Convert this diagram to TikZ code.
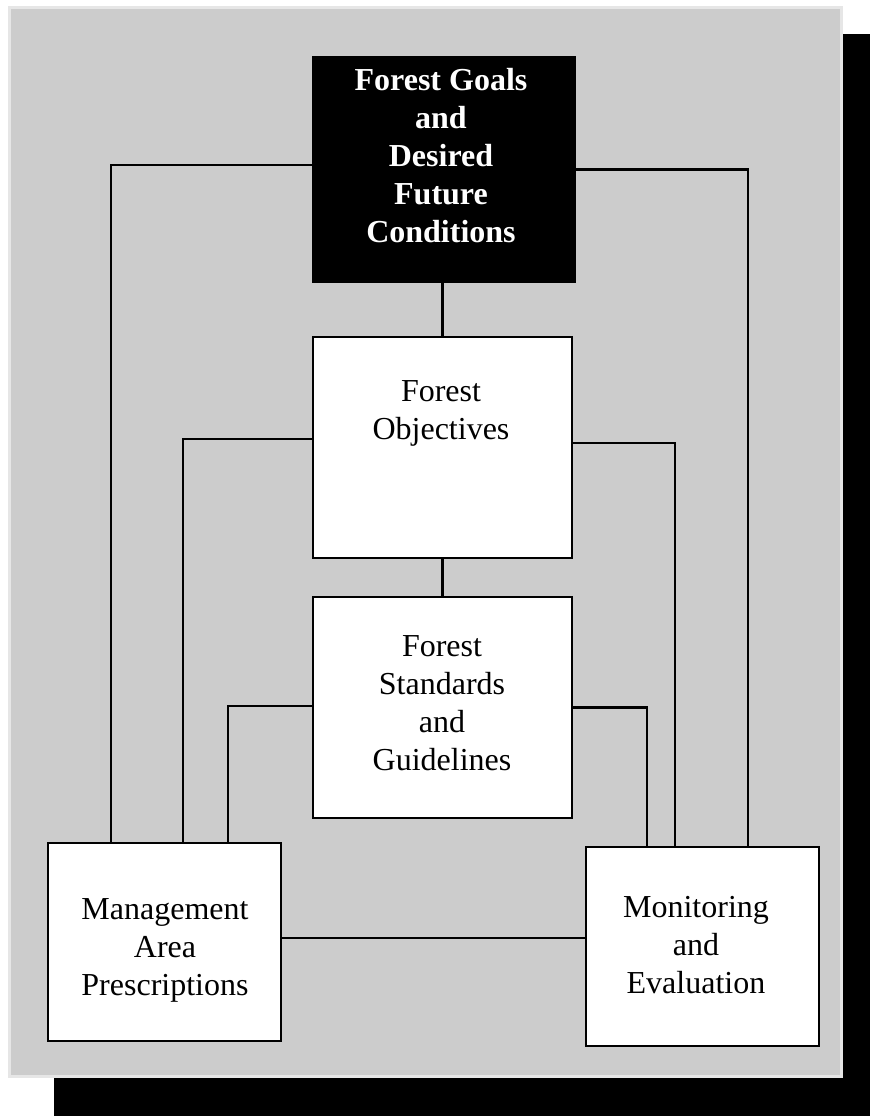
\documentclass[tikz,border=0pt]{standalone}
\usepackage{fontspec}
\setmainfont{Liberation Serif}
\definecolor{panelgray}{HTML}{CCCCCC}
\definecolor{panelrim}{HTML}{E6E6E6}
\pgfdeclarelayer{back}
\pgfdeclarelayer{wires}
\pgfsetlayers{back,wires,main}
\begin{document}
\begin{tikzpicture}[x=1pt,y=-1pt,
  box/.style={draw=black,line width=2.5pt,fill=white,minimum width=#1,inner sep=0pt},
  darkbox/.style={draw=black,line width=2.5pt,fill=black,inner sep=0pt},
  conn/.style={draw=black,line width=2.2pt},
  lbl/.style={align=center,inner sep=0pt,font=\fontsize{32}{38}\selectfont},
  lblw/.style={lbl,text=white,font=\fontsize{32}{38}\selectfont\bfseries}]
\useasboundingbox (0,0) rectangle (870,1116);
% shadow and panel
\begin{pgfonlayer}{back}
\fill[black] (54,34) rectangle (870,1116);
\draw[panelrim,line width=3pt,fill=panelgray] (9.5,7.5) rectangle (841.5,1076.5);
\end{pgfonlayer}
% boxes
\node[darkbox,minimum width=262pt,minimum height=225pt] (goals) at (444,169.5) {};
\node[box=259pt,minimum height=221pt] (obj) at (442.5,447.5) {};
\node[box=259pt,minimum height=221pt] (std) at (442.5,707.5) {};
\node[box=233pt,minimum height=198pt] (mgmt) at (164.5,942) {};
\node[box=233pt,minimum height=199pt] (mon) at (702.5,946.5) {};
% connectors
\begin{pgfonlayer}{wires}
\draw[conn] ([yshift=4.5pt]goals.west) -| ([xshift=64pt]mgmt.north west);
\draw[conn] (goals.east) -| ([xshift=163pt]mon.north west);
\draw[conn] ([yshift=8.5pt]obj.west) -| ([xshift=136pt]mgmt.north west);
\draw[conn] ([yshift=4.5pt]obj.east) -| ([xshift=90pt]mon.north west);
\draw[conn] ([yshift=1.5pt]std.west) -| ([xshift=181pt]mgmt.north west);
\draw[conn] (std.east) -| ([xshift=62pt]mon.north west);
\draw[conn] (obj.north |- goals.south) -- (obj.north);
\draw[conn] (obj.south) -- (std.north);
\draw[conn] ([yshift=4pt]mgmt.east) -- ([yshift=8.5pt]mon.west);
\end{pgfonlayer}
% texts
\node[lblw] (goalsT) at (441,155.6) {Forest Goals\\and\\Desired\\Future\\Conditions};
\node[lbl] (objT) at (441,413.4) {Forest\\Objectives};
\node[lbl] (stdT) at (442,703) {Forest\\Standards\\and\\Guidelines};
\node[lbl] (mgmtT) at (165,950.4) {Management\\Area\\Prescriptions};
\node[lbl] (monT) at (696,945.5) {Monitoring\\and\\Evaluation};
\end{tikzpicture}
\end{document}
